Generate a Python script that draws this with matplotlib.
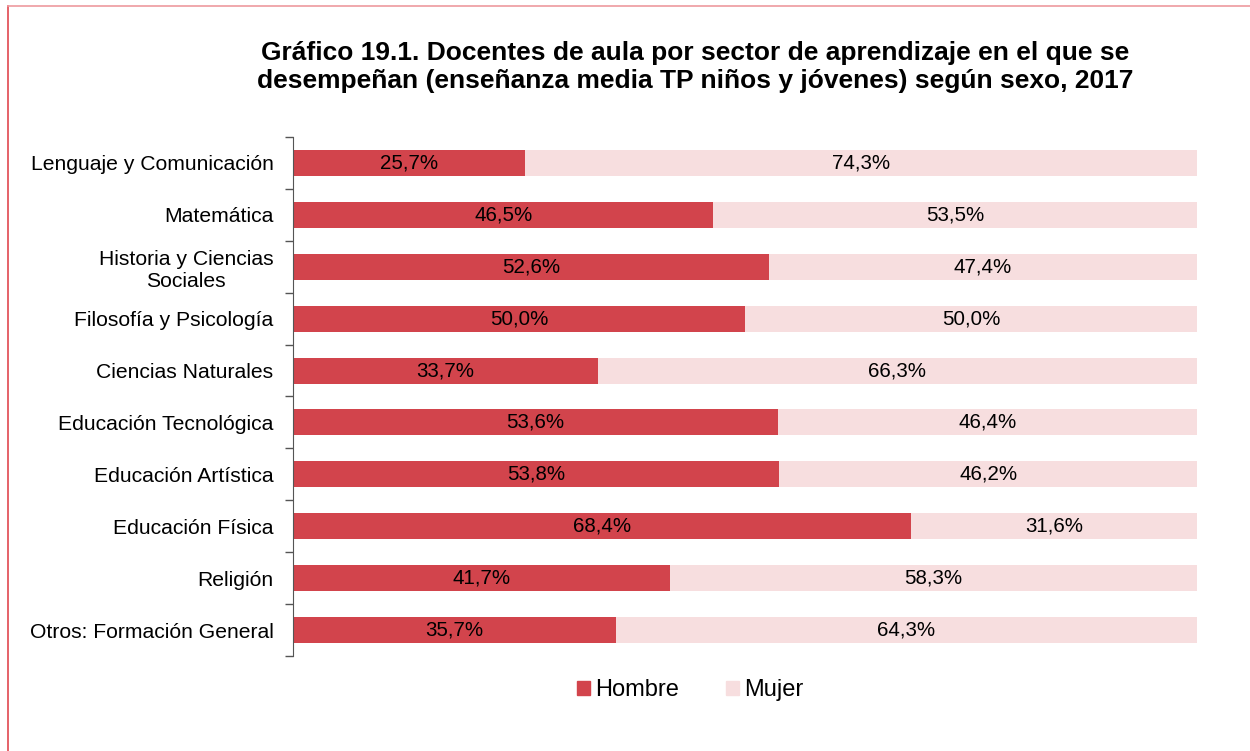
import matplotlib.pyplot as plt
import numpy as np
from matplotlib.lines import Line2D
from matplotlib.patches import Patch

plt.rcParams["font.family"] = ["Liberation Sans", "DejaVu Sans"]

categories = [
    "Lenguaje y Comunicación",
    "Matemática",
    "Historia y Ciencias\nSociales",
    "Filosofía y Psicología",
    "Ciencias Naturales",
    "Educación Tecnológica",
    "Educación Artística",
    "Educación Física",
    "Religión",
    "Otros: Formación General",
]
hombre = [25.7, 46.5, 52.6, 50.0, 33.7, 53.6, 53.8, 68.4, 41.7, 35.7]
mujer = [74.3, 53.5, 47.4, 50.0, 66.3, 46.4, 46.2, 31.6, 58.3, 64.3]

RED = "#D2444C"
PINK = "#F7DEDF"

fig = plt.figure(figsize=(12.5, 7.51), dpi=100)
ax = fig.add_axes([0.2344, 0.1265, 0.7232, 0.6911])

y = np.arange(len(categories))
ax.barh(y, hombre, height=0.5, color=RED, label="Hombre")
ax.barh(y, mujer, left=hombre, height=0.5, color=PINK, label="Mujer")

for i, (h, m) in enumerate(zip(hombre, mujer)):
    ax.text(h / 2, i, f"{h:.1f}%".replace(".", ","), ha="center", va="center", fontsize=14.8)
    ax.text(h + m / 2, i, f"{m:.1f}%".replace(".", ","), ha="center", va="center", fontsize=14.8)

ax.set_xlim(0, 100)
ax.set_ylim(len(categories) - 0.5, -0.5)
ax.set_yticks(y)
ax.set_yticklabels(categories, fontsize=15.2)
ax.set_yticks(np.arange(-0.5, len(categories)), minor=True)
ax.tick_params(axis="y", which="major", length=0, pad=14)
ax.tick_params(axis="y", which="minor", length=6, color="#555555", width=1)
for lbl in ax.get_yticklabels():
    lbl.set_multialignment("center")
ax.set_xticks([])
for s in ["top", "right", "bottom"]:
    ax.spines[s].set_visible(False)
ax.spines["left"].set_color("#555555")

fig.text(0.5564, 0.911, "Gráfico 19.1. Docentes de aula por sector de aprendizaje en el que se\n"
         "desempeñan (enseñanza media TP niños y jóvenes) según sexo, 2017",
         ha="center", va="center", fontsize=19, fontweight="bold", linespacing=1.22)

handles = [Patch(color=RED, label="Hombre"), Patch(color=PINK, label="Mujer")]
fig.legend(handles=handles, loc="center", bbox_to_anchor=(0.552, 0.081), ncol=2,
           frameon=False, fontsize=17, handlelength=0.55, handleheight=0.55,
           handletextpad=0.2, columnspacing=2.0)

# outer frame
fig.add_artist(Line2D([0.0064, 0.0064], [0, 0.992], color="#E0474F", lw=1.2))
fig.add_artist(Line2D([0.0064, 1.0], [0.992, 0.992], color="#EE9A9E", lw=1.2))

fig.savefig("out.png", dpi=100)
